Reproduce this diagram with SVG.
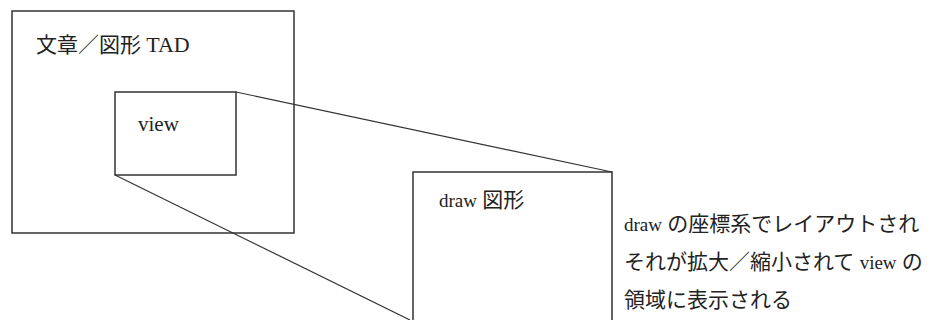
<svg xmlns="http://www.w3.org/2000/svg" width="929" height="320" viewBox="0 0 929 320">
<style>
.box{fill:none;stroke:#333;stroke-width:1.5}
.ln{fill:none;stroke:#333;stroke-width:1.2}
.t{font-family:"Liberation Serif","Noto Sans CJK JP",serif;font-size:21px;fill:#222}
.l{font-size:19px}
.big{font-size:22px}
</style>
<rect width="929" height="320" fill="#fff"/>
<g id="connectors">
<line class="ln" x1="236" y1="92" x2="612" y2="172"/>
<line class="ln" x1="115" y1="175" x2="410" y2="320"/>
</g>
<g id="tad">
<rect class="box" x="12" y="11" width="282" height="222"/>
<text class="t" x="36" y="52">文章／図形 <tspan class="big">TAD</tspan></text>
</g>
<g id="view">
<rect class="box" x="115" y="92" width="121" height="83"/>
<text class="t" x="138" y="131">view</text>
</g>
<g id="draw">
<path class="box" d="M413,321 V172 H612 V321"/>
<text class="t" x="439" y="207"><tspan class="l">draw</tspan> 図形</text>
</g>
<g id="note">
<text class="t" x="624" y="231"><tspan class="l">draw</tspan> の座標系でレイアウトされ</text>
<text class="t" x="624" y="269">それが拡大／縮小されて <tspan class="l">view</tspan> の</text>
<text class="t" x="624" y="307">領域に表示される</text>
</g>
</svg>
